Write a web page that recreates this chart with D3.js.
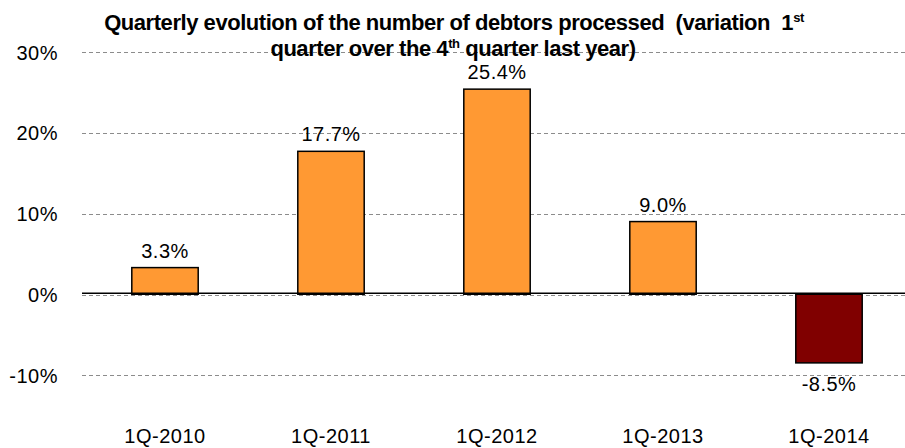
<!DOCTYPE html>
<html>
<head>
<meta charset="utf-8">
<script src="https://cdn.jsdelivr.net/npm/d3@7"></script>
<style>
  body { margin: 0; background: #fff; overflow: hidden; }
  svg { display: block; font-family: Arial, "Liberation Sans", sans-serif; }
  .grid line { stroke: #8c8c8c; stroke-dasharray: 4 3; stroke-width: 1.2; }
  .tick-label { font-size: 20px; fill: #000; letter-spacing: 0.5px; }
  .title { font-size: 22px; font-weight: bold; fill: #000; letter-spacing: -0.45px; white-space: pre; }
</style>
</head>
<body>
<svg id="chart"></svg>
<script>
const categories = ['1Q-2010', '1Q-2011', '1Q-2012', '1Q-2013', '1Q-2014'];
const values = [3.3, 17.7, 25.4, 9.0, -8.5];
const yTicks = [-10, 0, 10, 20, 30];

const width = 905, height = 448;
const margin = { left: 82, right: -7 };

const svg = d3.select('#chart')
    .attr('width', width)
    .attr('height', height);

const xScale = d3.scaleBand()
    .domain(categories)
    .range([margin.left, width - margin.right])
    .paddingInner(0.6)
    .paddingOuter(0.3);

// 30% sits at y=52, -10% at y=375
const yScale = d3.scaleLinear()
    .domain([-10, 30])
    .range([375, 52]);

// dashed gridlines
svg.append('g')
    .attr('class', 'grid')
    .selectAll('line')
    .data(yTicks)
    .join('line')
    .attr('x1', margin.left)
    .attr('x2', width)
    .attr('y1', d => Math.round(yScale(d)) + (d === 0 ? 1.5 : 0.5))
    .attr('y2', d => Math.round(yScale(d)) + (d === 0 ? 1.5 : 0.5));

// y tick labels
svg.append('g')
    .selectAll('text')
    .data(yTicks)
    .join('text')
    .attr('class', 'tick-label')
    .attr('x', 58)
    .attr('y', d => yScale(d) + 7.5)
    .attr('text-anchor', 'end')
    .text(d => d + '%');

// bars
svg.append('g')
    .selectAll('rect')
    .data(values)
    .join('rect')
    .attr('x', (d, i) => xScale(categories[i]))
    .attr('width', xScale.bandwidth())
    .attr('y', d => yScale(Math.max(0, d)))
    .attr('height', d => Math.abs(yScale(d) - yScale(0)))
    .attr('fill', d => d < 0 ? '#800000' : '#FF9933')
    .attr('stroke', '#000')
    .attr('stroke-width', 1.5);

// zero line
svg.append('line')
    .attr('x1', margin.left)
    .attr('x2', width)
    .attr('y1', yScale(0) - 1)
    .attr('y2', yScale(0) - 1)
    .attr('stroke', '#000')
    .attr('stroke-width', 1.5);

// value labels
svg.append('g')
    .selectAll('text')
    .data(values)
    .join('text')
    .attr('class', 'tick-label')
    .attr('x', (d, i) => xScale(categories[i]) + xScale.bandwidth() / 2)
    .attr('y', d => d < 0 ? yScale(d) + 28 : yScale(d) - 10)
    .attr('text-anchor', 'middle')
    .text(d => d.toFixed(1) + '%');

// category labels
svg.append('g')
    .selectAll('text')
    .data(categories)
    .join('text')
    .attr('class', 'tick-label')
    .attr('x', d => xScale(d) + xScale.bandwidth() / 2)
    .attr('y', 443)
    .attr('text-anchor', 'middle')
    .text(d => d);

// title, two lines with superscripts
const title = svg.append('text')
    .attr('class', 'title')
    .attr('text-anchor', 'middle');

const l1 = title.append('tspan').attr('x', 454).attr('y', 30);
l1.append('tspan').text('Quarterly evolution of the number of debtors processed  (variation  1');
l1.append('tspan').attr('dy', -8).attr('font-size', 13).text('st');

const l2 = title.append('tspan').attr('x', 453).attr('y', 56);
l2.append('tspan').text('quarter over the 4');
l2.append('tspan').attr('dy', -8).attr('font-size', 13).text('th');
l2.append('tspan').attr('dy', 8).text(' quarter last year)');
</script>
</body>
</html>
